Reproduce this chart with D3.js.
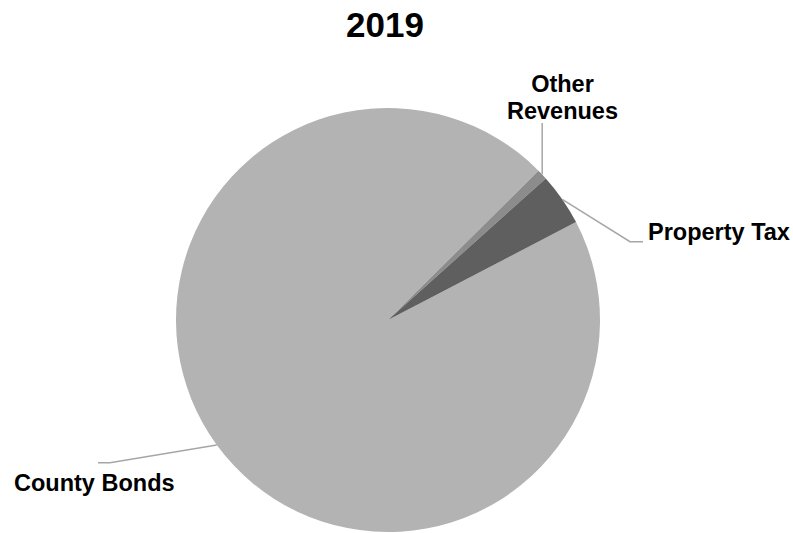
<!DOCTYPE html>
<html>
<head>
<meta charset="utf-8">
<script src="https://cdn.jsdelivr.net/npm/d3@7"></script>
<style>
  html, body { margin: 0; padding: 0; background: #fff; }
  svg { display: block; }
  text { font-family: "Liberation Sans", Arial, sans-serif; font-weight: bold; fill: #000; }
</style>
</head>
<body>
<svg id="chart" width="793" height="533"></svg>
<script>
// ---- Data ----
const title = "2019";
const categories = ["County Bonds", "Other Revenues", "Property Tax"];
const values = [95.2, 0.8, 4.0];
const colors = ["#b3b3b3", "#8c8c8c", "#5f5f5f"];

// ---- Layout ----
const W = 793, H = 533;
const cx = 388, cy = 320, R = 212;
const startDeg = 62.5;
// label layout: elbow / end points of leader lines and text anchor
const labelLayout = {
  "County Bonds":   { elbow: [110, 462.7], end: [98, 462.7], text: [14, 490.7], anchor: "start", lines: ["County Bonds"] },
  "Other Revenues": { elbow: [null, 123], end: null, text: [562.5, 91.7], anchor: "middle", lines: ["Other", "Revenues"] },
  "Property Tax":   { elbow: [630, 241.7], end: [643, 241.7], text: [648, 239.5], anchor: "start", lines: ["Property Tax"] }
};

const svg = d3.select("#chart");

svg.append("text")
  .attr("x", 385).attr("y", 37.3)
  .attr("text-anchor", "middle")
  .style("font-size", "35px")
  .text(title);

const data = categories.map((c, i) => ({ name: c, value: values[i], color: colors[i] }));

const pie = d3.pie()
  .value(d => d.value)
  .sort(null)
  .startAngle(startDeg * Math.PI / 180)
  .endAngle(startDeg * Math.PI / 180 + 2 * Math.PI);

const arcs = pie(data);
const arc = d3.arc().innerRadius(0).outerRadius(R);

const g = svg.append("g").attr("transform", `translate(${cx},${cy})`);
g.selectAll("path.slice")
  .data(arcs)
  .join("path")
  .attr("class", "slice")
  .attr("d", arc)
  .attr("fill", d => d.data.color);

// leader lines
const line = d3.line();
arcs.forEach(a => {
  const L = labelLayout[a.data.name];
  const mid = (a.startAngle + a.endAngle) / 2;
  const p0 = [cx + R * Math.sin(mid), cy - R * Math.cos(mid)];
  const pts = [p0];
  const e = [L.elbow[0] === null ? p0[0] : L.elbow[0], L.elbow[1]];
  pts.push(e);
  if (L.end) pts.push(L.end);
  svg.append("path")
    .attr("d", line(pts))
    .attr("fill", "none")
    .attr("stroke", "#a6a6a6")
    .attr("stroke-width", 1.5);

  const t = svg.append("text")
    .attr("x", L.text[0]).attr("y", L.text[1])
    .attr("text-anchor", L.anchor)
    .style("font-size", "23.5px");
  L.lines.forEach((ln, i) => {
    t.append("tspan")
      .attr("x", L.text[0])
      .attr("dy", i === 0 ? 0 : 27.6)
      .text(ln);
  });
});
</script>
</body>
</html>
